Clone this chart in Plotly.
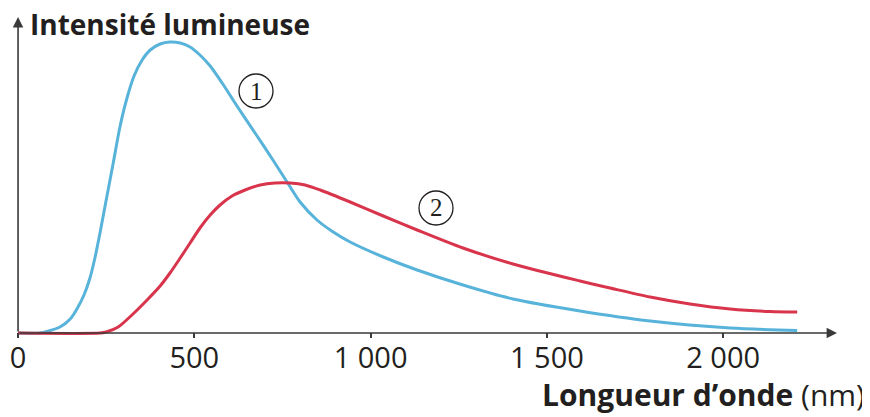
import plotly.graph_objects as go

# Data (wavelength in nm, intensity in arbitrary units)
blue_x = [0, 62, 82, 119, 148, 167, 187, 204, 218, 233, 250, 270, 289, 309, 329, 352, 375,
          403, 431, 460, 488, 516, 545, 579, 621, 678, 723, 763, 800, 848, 894, 942,
          1036, 1132, 1262, 1404, 1594, 1793, 2020, 2210]
blue_y = [0, 0, 1.5, 6, 14, 24, 38, 55, 75, 101, 133, 170, 206, 235, 257, 273, 283,
          289, 291, 290, 286, 278, 267, 250, 227, 197, 173, 151, 131, 113, 101, 91,
          76, 63, 48, 34, 22, 12, 5, 2.5]
red_x = [0, 233, 250, 284, 326, 366, 403, 431, 460, 488, 516, 545, 573, 607, 644, 687,
         729, 772, 814, 857, 942, 1036, 1132, 1262, 1404, 1594, 1679, 1793, 1906, 2020,
         2133, 2210]
red_y = [0, 0, 1, 6, 19, 33, 47, 60, 75, 90, 105, 118, 128, 137, 143, 148,
         150, 150, 148, 143, 131, 117, 103, 85, 69, 52, 45, 36, 29, 24,
         21.5, 21]
tick_vals = [0, 500, 1000, 1500, 2000]
tick_text = ["0", "500", "1 000", "1 500", "2 000"]

# page body has an 8px margin; figure sized/offset to compensate
OFF = 8
W, H = 870 - OFF, 417 - OFF
L, R, T, B = 3, 33, 9, 79
PW, PH = W - L - R, H - T - B
XMIN, XMAX = -20, 2323
YMIN, YMAX = -5, 316


def px(xp):
    return (xp - OFF - L) / PW


def py(yp):
    return (H - B - (yp - OFF)) / PH


TXT = "#231f20"

fig = go.Figure()
fig.add_trace(go.Scatter(x=blue_x, y=blue_y, mode="lines",
                         line=dict(color="#58B3DA", width=3, shape="spline", smoothing=0.8),
                         hoverinfo="skip", showlegend=False))
fig.add_trace(go.Scatter(x=red_x, y=red_y, mode="lines",
                         line=dict(color="#D8344C", width=3, shape="spline", smoothing=0.8),
                         hoverinfo="skip", showlegend=False))

annotations = [
    # axes arrows
    dict(x=XMAX, y=0, ax=0, ay=0, xref="x", yref="y", axref="x", ayref="y",
         showarrow=True, arrowhead=2, arrowsize=1.3, arrowwidth=1.6, arrowcolor="#3a3a3a", text=""),
    dict(x=0, y=YMAX, ax=0, ay=0, xref="x", yref="y", axref="x", ayref="y",
         showarrow=True, arrowhead=2, arrowsize=1.3, arrowwidth=1.6, arrowcolor="#3a3a3a", text=""),
    # titles
    dict(x=px(28), y=py(24), xref="paper", yref="paper", xanchor="left", yanchor="middle",
         text="<b>Intensité lumineuse</b>", showarrow=False,
         font=dict(family="Open Sans", size=28, color=TXT)),
    dict(x=px(867), y=py(395), xref="paper", yref="paper", xanchor="right", yanchor="middle",
         text="<b>Longueur d’onde</b> (nm)", showarrow=False,
         font=dict(family="Open Sans", size=30, color=TXT)),
    # curve labels
    dict(x=px(256), y=py(91), xref="paper", yref="paper", xanchor="center", yanchor="middle",
         text="1", showarrow=False, font=dict(family="Liberation Serif", size=25, color=TXT)),
    dict(x=px(436), y=py(208), xref="paper", yref="paper", xanchor="center", yanchor="middle",
         text="2", showarrow=False, font=dict(family="Liberation Serif", size=25, color=TXT)),
]

shapes = []
for cx, cy in [(256, 91), (436, 208)]:
    shapes.append(dict(type="circle", xref="paper", yref="paper",
                       x0=px(cx - 17), x1=px(cx + 17), y0=py(cy + 17), y1=py(cy - 17),
                       line=dict(color=TXT, width=1.3), fillcolor="white", layer="above"))

fig.update_layout(
    width=W, height=H,
    margin=dict(l=L, r=R, t=T, b=B),
    paper_bgcolor="white", plot_bgcolor="white",
    xaxis=dict(range=[XMIN, XMAX], showgrid=False, zeroline=False, showline=False,
               tickvals=tick_vals, ticktext=tick_text, ticks="inside", ticklen=5,
               tickwidth=1.5, tickcolor="#3a3a3a",
               tickfont=dict(family="Open Sans", size=29, color=TXT), fixedrange=True),
    yaxis=dict(range=[YMIN, YMAX], showgrid=False, zeroline=False, showline=False,
               showticklabels=False, ticks="", fixedrange=True),
    annotations=annotations,
    shapes=shapes,
)

fig.write_html("out.html")
